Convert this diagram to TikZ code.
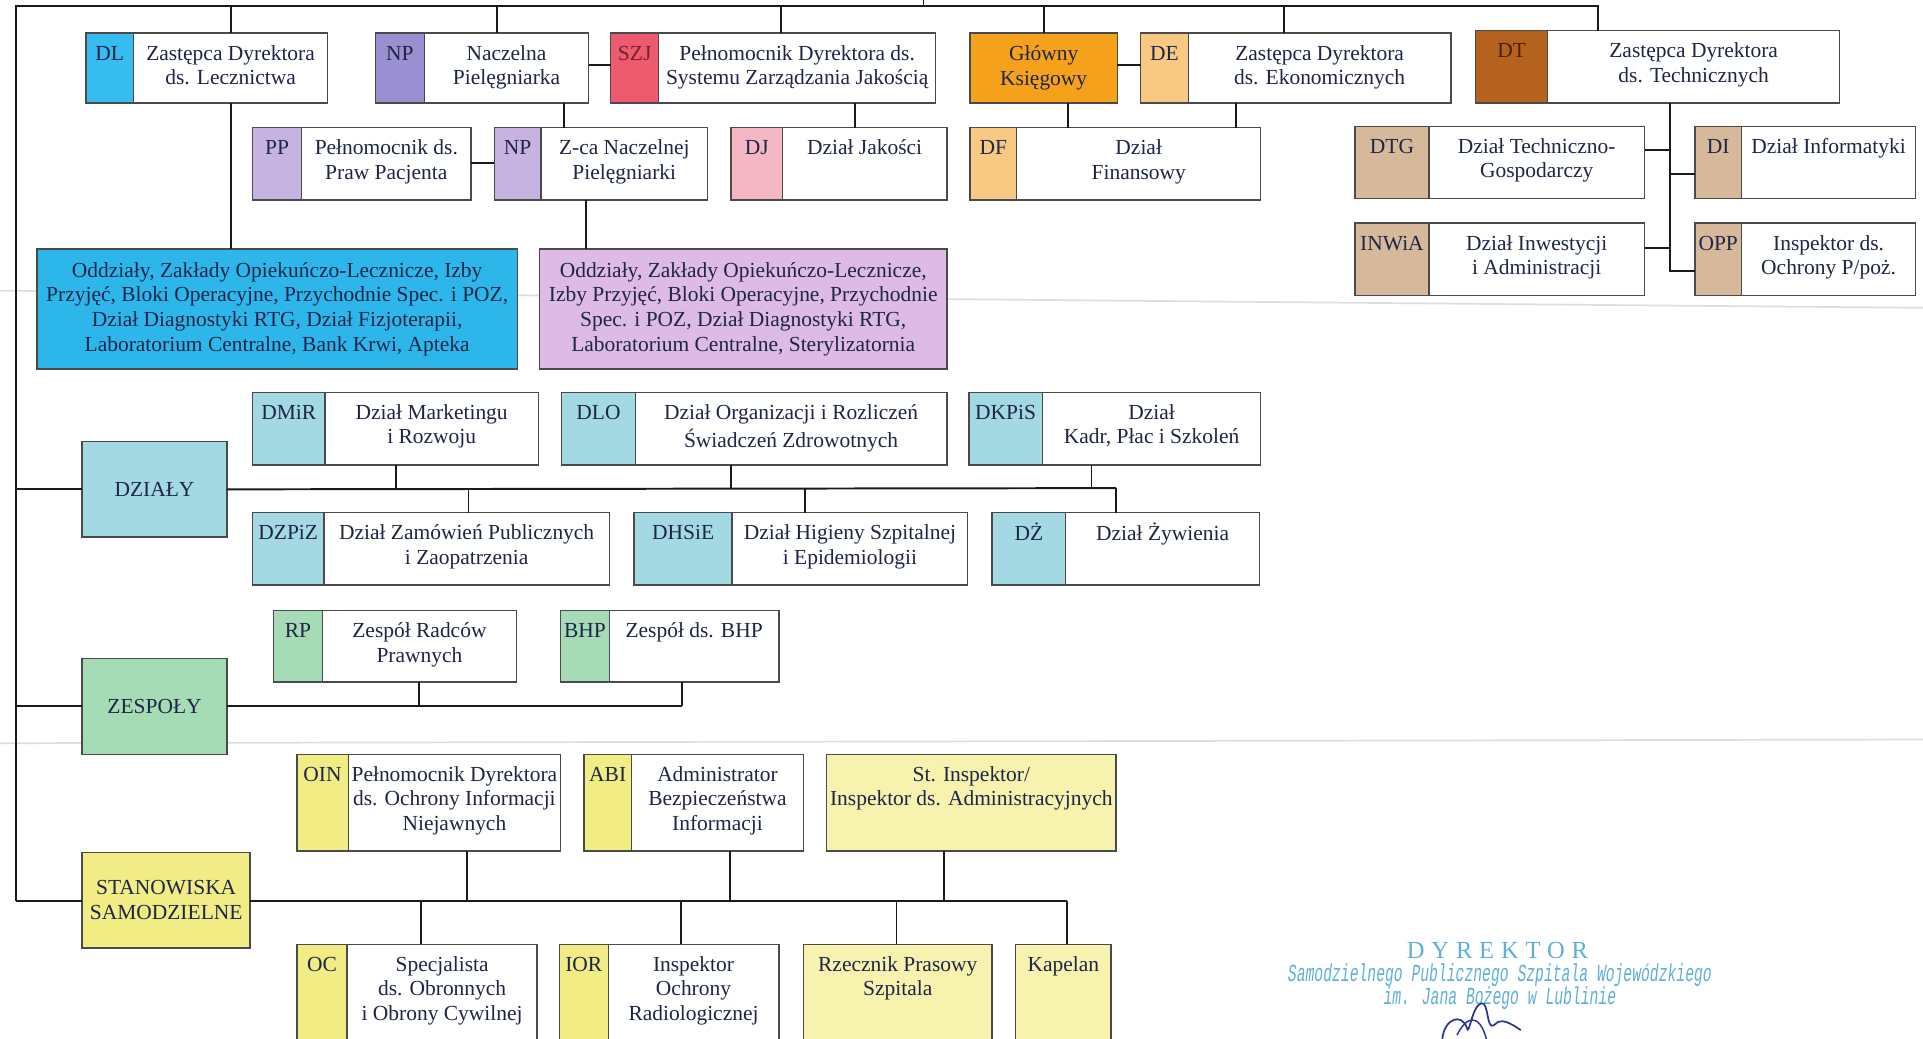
\documentclass[tikz,border=0pt]{standalone}
\usepackage{fontspec}
\setmainfont{Liberation Serif}
\newfontfamily\stampfont{Liberation Mono}
\newfontfamily\stampserif[LetterSpace=28]{Liberation Serif}
\usetikzlibrary{calc}
\definecolor{ink}{HTML}{1E2548}
\definecolor{frame}{HTML}{4A4A4A}
\definecolor{connc}{HTML}{1A1A1A}
\definecolor{cDL}{HTML}{36BCEE}
\definecolor{cBlue}{HTML}{2DB6EA}
\definecolor{cNP}{HTML}{9A8FD0}
\definecolor{cSZJ}{HTML}{EE5B6E}
\definecolor{cGK}{HTML}{F6A11C}
\definecolor{cDE}{HTML}{F8C982}
\definecolor{cDT}{HTML}{B5621E}
\definecolor{cPP}{HTML}{C7B3E2}
\definecolor{cDJ}{HTML}{F5B7C3}
\definecolor{cT}{HTML}{D6B89B}
\definecolor{cPurp}{HTML}{DEBAE6}
\definecolor{cDz}{HTML}{A3D9E3}
\definecolor{cZe}{HTML}{A5DCB5}
\definecolor{cSt}{HTML}{F2EC84}
\definecolor{cStPale}{HTML}{F7F3AE}
\definecolor{stamp}{HTML}{5DB0D8}
\definecolor{sig}{HTML}{2A3399}
\newcommand\bodyfont{\fontsize{8.75}{10}\selectfont}
\tikzset{
  boxframe/.style={draw=frame, line width=0.6pt},
  conn/.style={draw=connc, line width=0.8pt},
  txt/.style={inner sep=0pt, outer sep=0pt, align=center, text=ink, font=\bodyfont},
  toptxt/.style={txt, anchor=north},
  shell/.style={inner sep=0pt, outer sep=0pt, anchor=north west},
  stamptxt/.style={text=stamp, inner sep=0pt, outer sep=0pt},
}
% name, x1, y1, x2, y2, label-column end, colour, label, body
\newcommand\ubox[9]{%
  \node[shell, minimum width={(#4-#2)*0.5pt}, minimum height={(#5-#3)*0.5pt}] (#1) at (#2,#3) {};
  \fill[#7] (#2,#3) rectangle (#6,#5);
  \draw[boxframe] (#1.north west) rectangle (#1.south east);
  \draw[boxframe] (#6,#3) -- (#6,#5);
  \node[toptxt] (#1-l) at ({(#2+#6)/2},{#3+8}) {\strut #8};
  \node[toptxt] (#1-t) at ({(#6+#4)/2},{#3+8}) {\strut #9};
}
% name, x1, y1, x2, y2, colour, text  (text centred)
\newcommand\cbox[7]{%
  \node[shell, fill=#6, boxframe, minimum width={(#4-#2)*0.5pt}, minimum height={(#5-#3)*0.5pt}] (#1) at (#2,#3) {};
  \node[txt] (#1-t) at (#1.center) {#7};
}
% name, x1, y1, x2, y2, colour, text  (text at top)
\newcommand\tbox[7]{%
  \node[shell, fill=#6, boxframe, minimum width={(#4-#2)*0.5pt}, minimum height={(#5-#3)*0.5pt}] (#1) at (#2,#3) {};
  \node[toptxt] (#1-t) at ({(#2+#4)/2},{#3+8}) {\strut #7};
}
\begin{document}
\begin{tikzpicture}[x=0.5pt,y=-0.5pt]
\useasboundingbox (0,0) rectangle (1568,847);
\fill[white] (0,0) rectangle (1568,847);
\clip (0,0) rectangle (1568,847);

% faint scan lines
\draw[black!13, line width=0.7pt] (0,237) -- (1568,251);
\draw[black!13, line width=0.7pt] (0,606) -- (1568,603);

% ---------- boxes ----------
\ubox{dl}{70}{27}{267}{84}{109}{cDL}{DL}{Zastępca Dyrektora\\ds. Lecznictwa}
\ubox{np}{306}{27}{480}{84}{346}{cNP}{NP}{Naczelna\\Pielęgniarka}
\ubox{szj}{498}{27}{763}{84}{537}{cSZJ}{\textcolor[HTML]{7A1F2E}{SZJ}}{Pełnomocnik Dyrektora ds.\\Systemu Zarządzania Jakością}
\cbox{gk}{791}{27}{911}{84}{cGK}{Główny\\Księgowy}
\ubox{de}{930}{27}{1183}{84}{969}{cDE}{DE}{Zastępca Dyrektora\\ds. Ekonomicznych}
\ubox{dt}{1203}{25}{1500}{84}{1262}{cDT}{\textcolor[HTML]{4A2008}{DT}}{Zastępca Dyrektora\\ds. Technicznych}

\ubox{pp}{206}{104}{384}{163}{246}{cPP}{PP}{Pełnomocnik ds.\\Praw Pacjenta}
\ubox{np2}{403}{104}{577}{163}{441}{cPP}{NP}{Z-ca Naczelnej\\Pielęgniarki}
\ubox{dj}{596}{104}{772}{163}{638}{cDJ}{DJ}{Dział Jakości}
\ubox{df}{791}{104}{1028}{163}{829}{cDE}{DF}{Dział\\Finansowy}
\ubox{dtg}{1105}{103}{1341}{162}{1165}{cT}{DTG}{Dział Techniczno-\\Gospodarczy}
\ubox{di}{1382}{103}{1562}{162}{1420}{cT}{DI}{Dział Informatyki}
\ubox{inw}{1105}{182}{1341}{241}{1165}{cT}{INWiA}{Dział Inwestycji\\i Administracji}
\ubox{opp}{1382}{182}{1562}{241}{1420}{cT}{OPP}{Inspektor ds.\\Ochrony P/poż.}

\cbox{blue}{30}{203}{422}{301}{cBlue}{Oddziały, Zakłady Opiekuńczo-Lecznicze, Izby\\Przyjęć, Bloki Operacyjne, Przychodnie Spec. i POZ,\\Dział Diagnostyki RTG, Dział Fizjoterapii,\\Laboratorium Centralne, Bank Krwi, Apteka}
\cbox{purp}{440}{203}{772}{301}{cPurp}{Oddziały, Zakłady Opiekuńczo-Lecznicze,\\Izby Przyjęć, Bloki Operacyjne, Przychodnie\\Spec. i POZ, Dział Diagnostyki RTG,\\Laboratorium Centralne, Sterylizatornia}

\cbox{dzialy}{67}{360}{185}{438}{cDz}{DZIAŁY}
\ubox{dmir}{206}{320}{439}{379}{265}{cDz}{DMiR}{Dział Marketingu\\i Rozwoju}
\ubox{dlo}{458}{320}{772}{379}{518}{cDz}{DLO}{Dział Organizacji i Rozliczeń\\Świadczeń Zdrowotnych}
\ubox{dkpis}{790}{320}{1028}{379}{850}{cDz}{DKPiS}{Dział\\Kadr, Płac i Szkoleń}
\ubox{dzpiz}{206}{418}{497}{477}{264}{cDz}{DZPiZ}{Dział Zamówień Publicznych\\i Zaopatrzenia}
\ubox{dhsie}{517}{418}{789}{477}{597}{cDz}{DHSiE}{Dział Higieny Szpitalnej\\i Epidemiologii}
\ubox{dzyw}{809}{418}{1027}{477}{869}{cDz}{DŻ}{Dział Żywienia}

\cbox{zespoly}{67}{537}{185}{615}{cZe}{ZESPOŁY}
\ubox{rp}{223}{498}{421}{556}{263}{cZe}{RP}{Zespół Radców\\Prawnych}
\ubox{bhp}{457}{498}{635}{556}{497}{cZe}{BHP}{Zespół ds. BHP}

\cbox{stan}{67}{695}{204}{773}{cSt}{STANOWISKA\\SAMODZIELNE}
\ubox{oin}{242}{615}{457}{694}{284}{cSt}{OIN}{Pełnomocnik Dyrektora\\ds. Ochrony Informacji\\Niejawnych}
\ubox{abi}{476}{615}{655}{694}{515}{cSt}{ABI}{Administrator\\Bezpieczeństwa\\Informacji}
\tbox{stin}{674}{615}{910}{694}{cStPale}{St. Inspektor/\\Inspektor ds. Administracyjnych}
\ubox{oc}{242}{770}{438}{870}{283}{cSt}{OC}{Specjalista\\ds. Obronnych\\i Obrony Cywilnej}
\ubox{ior}{456}{770}{635}{870}{496}{cSt}{IOR}{Inspektor\\Ochrony\\Radiologicznej}
\tbox{rzecz}{655}{770}{809}{870}{cStPale}{Rzecznik Prasowy\\Szpitala}
\tbox{kap}{828}{770}{906}{870}{cStPale}{Kapelan}

% ---------- bus coordinates ----------
\coordinate (dir) at (753,0);
\coordinate (busL) at (13,5);
\coordinate (busR) at (1303,5);
\coordinate (vDL) at (188,5);
\coordinate (vNP) at (405,5);
\coordinate (vSZJ) at (637,5);
\coordinate (vGK) at (851,5);
\coordinate (vDE) at (1047,5);
\coordinate (leftEnd) at (13,735);

\draw[conn] (dir) -- (753,5);
\draw[conn] (leftEnd) -- (busL) -- (busR) -- (dt.north -| busR);
\foreach \v/\n in {vDL/dl, vNP/np, vSZJ/szj, vGK/gk, vDE/de}
  \draw[conn] (\v) -- (\n.north -| \v);

% row 1 side links
\draw[conn] (np.east |- 0,53) -- (szj.west |- 0,53);
\draw[conn] (gk.east |- 0,53) -- (de.west |- 0,53);
% row 1 -> row 2
\coordinate (xDL) at (188,0);
\coordinate (xNP) at (460,0);
\coordinate (xNP2) at (478,0);
\coordinate (xSZJ) at (697,0);
\coordinate (xGK) at (871,0);
\coordinate (xDE) at (1008,0);
\coordinate (xDT) at (1362,0);
\draw[conn] (dl.south -| xDL) -- (blue.north -| xDL);
\draw[conn] (np.south -| xNP) -- (np2.north -| xNP);
\draw[conn] (np2.south -| xNP2) -- (purp.north -| xNP2);
\draw[conn] (pp.east |- 0,133) -- (np2.west |- 0,133);
\draw[conn] (szj.south -| xSZJ) -- (dj.north -| xSZJ);
\draw[conn] (gk.south -| xGK) -- (df.north -| xGK);
\draw[conn] (de.south -| xDE) -- (df.north -| xDE);
% technical branch
\coordinate (tEnd) at (1362,221);
\draw[conn] (dt.south -| xDT) -- (tEnd) -- (opp.west |- tEnd);
\draw[conn] (dtg.east |- 0,122) -- (xDT |- 0,122);
\draw[conn] (xDT |- 0,142) -- (di.west |- 0,142);
\draw[conn] (inw.east |- 0,202) -- (xDT |- 0,202);

% DZIAŁY
\coordinate (bD) at (910,398);
\draw[conn] (busL |- dzialy.west) -- (dzialy.west);
\draw[conn] (dzialy.east) -- (bD);
\foreach \x/\n in {323/dmir, 596/dlo, 890/dkpis}
  \draw[conn] (\n.south -| \x,0) -- (\x,398);
\foreach \x/\n in {382/dzpiz, 656/dhsie, 910/dzyw}
  \draw[conn] (\x,398) -- (\n.north -| \x,0);

% ZESPOŁY
\draw[conn] (busL |- zespoly.west) -- (zespoly.west);
\draw[conn] (zespoly.east) -- (556,576);
\foreach \x/\n in {342/rp, 556/bhp}
  \draw[conn] (\n.south -| \x,0) -- (\x,576);

% STANOWISKA
\draw[conn] (leftEnd) -- (stan.west |- leftEnd);
\draw[conn] (stan.east |- leftEnd) -- (870,735);
\foreach \x/\n in {381/oin, 595/abi, 770/stin}
  \draw[conn] (\n.south -| \x,0) -- (\x,735);
\foreach \x/\n in {343/oc, 555/ior, 731/rzecz, 870/kap}
  \draw[conn] (\x,735) -- (\n.north -| \x,0);

% ---------- stamp ----------
\node[stamptxt, font=\stampserif\fontsize{10}{11}\selectfont] (st1) at (1221,775) {DYREKTOR};
\node[stamptxt, font=\stampfont\itshape\fontsize{10}{11}\selectfont, xscale=0.6] (st2) at (1223,795) {Samodzielnego Publicznego Szpitala Wojewódzkiego};
\node[stamptxt, font=\stampfont\itshape\fontsize{10}{11}\selectfont, xscale=0.6] (st3) at (1223,814) {im. Jana Bożego w Lublinie};
\draw[sig, line width=0.7pt] (1176,847) .. controls (1178,830) and (1192,826) .. (1196,838)
  .. controls (1198,846) and (1200,820) .. (1208,818) .. controls (1214,817) and (1212,840) .. (1218,836)
  .. controls (1222,832) and (1226,830) .. (1240,840);
\draw[sig, line width=0.6pt] (1188,844) .. controls (1196,828) and (1206,826) .. (1212,847);
\end{tikzpicture}
\end{document}
